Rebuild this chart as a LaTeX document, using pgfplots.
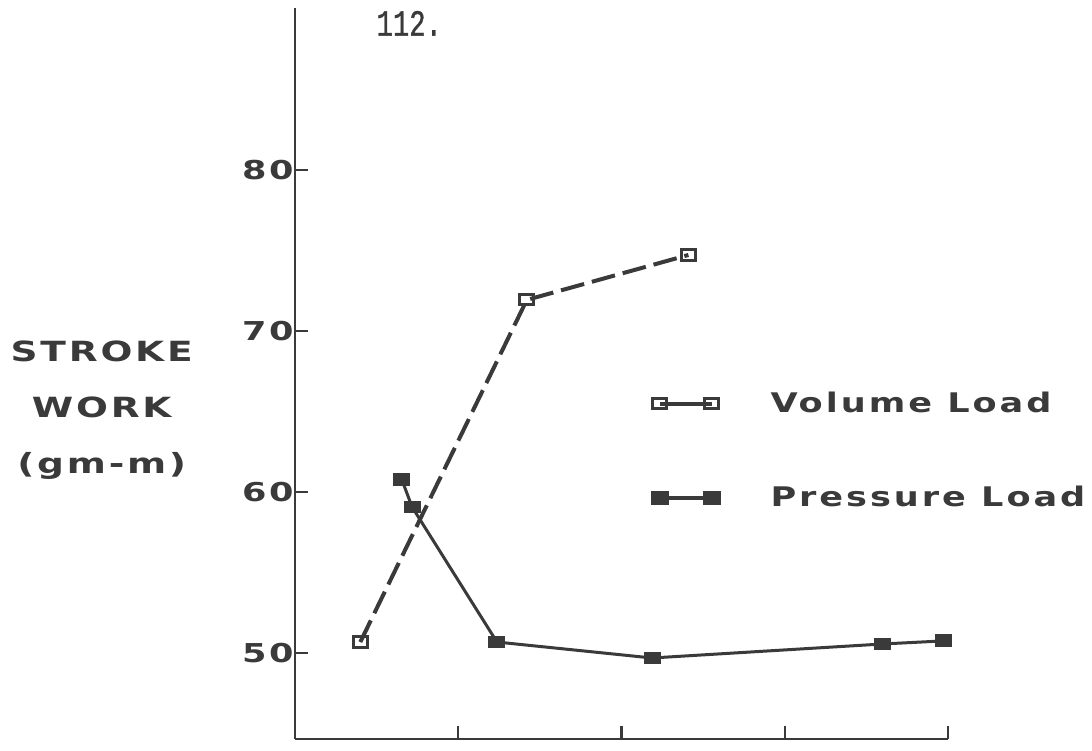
\documentclass[border=0pt]{standalone}
\usepackage{pgfplots}
\pgfplotsset{compat=1.18}
\usepackage{fontspec}
\newfontfamily\labfont{DejaVu Sans}[FakeStretch=1.35, LetterSpace=10]
\newfontfamily\legfont{DejaVu Sans}[FakeStretch=1.3, LetterSpace=11]
\newfontfamily\typefont{Liberation Mono}[FakeBold=1.2]
\definecolor{ink}{HTML}{3A3A3A}

\begin{document}
\begin{tikzpicture}
\begin{axis}[
  scale only axis,
  width=326.5pt, height=365.5pt,
  xmin=0, xmax=4, ymin=44.66, ymax=90.06,
  axis lines=left,
  axis line style={-, line width=1.2pt, ink},
  tick align=inside,
  major tick length=6.5pt,
  tick style={line width=1.2pt, ink},
  xtick={1,2,3,4}, xticklabels={},
  ytick={50,60,70,80},
  /pgf/number format/assume math mode=true,
  yticklabel style={font=\labfont\bfseries\fontsize{13}{14}\selectfont, text=ink, inner sep=0.5pt},
  clip=false,
  legend style={at={(rel axis cs:0.547,0.481)}, anchor=north west, draw=none, fill=none,
    inner sep=0pt, row sep=31.5pt, font=\legfont\bfseries\fontsize{13.5}{14}\selectfont, text=ink,
    /tikz/every odd column/.append style={column sep=24pt}},
  legend cell align=left,
  legend image code/.code={\draw[#1, solid, line width=2pt] plot coordinates {(0pt,0pt) (26pt,0pt)};},
]
% volume loading: open markers, dashed line
\addplot[ink, line width=2pt, dash pattern=on 12pt off 4pt,
  mark=square, mark size=3pt,
  mark options={solid, line width=1.5pt, fill=white, xscale=1.15, yscale=0.85}]
  coordinates {(0.40,50.68) (1.42,71.93) (2.41,74.72)};
\addlegendentry{Volume Load}
% pressure loading: filled markers, solid line
\addplot[ink, line width=1.5pt,
  mark=square*, mark size=2.9pt,
  mark options={solid, fill=ink, xscale=1.2, yscale=0.85}]
  coordinates {(0.655,60.75) (0.717,59.07) (1.237,50.68) (2.187,49.69) (3.60,50.56) (3.97,50.75)};
\addlegendentry{Pressure Load}

\node[text=ink, align=center, font=\labfont\bfseries\fontsize{13.9}{28}\selectfont]
  at (rel axis cs:-0.296,0.450) {STROKE\\WORK\\(gm-m)};
\node[text=ink, font=\typefont\fontsize{16}{16}\selectfont, xscale=0.85, yscale=1.15]
  at (rel axis cs:0.175,0.979) {112.};
\coordinate (bl) at (rel axis cs:-0.4518,-0.0164);
\coordinate (tr) at (rel axis cs:1.2205,1.0109);
\end{axis}
\pgfresetboundingbox
\path[use as bounding box] (bl) rectangle (tr);
\end{tikzpicture}
\end{document}
